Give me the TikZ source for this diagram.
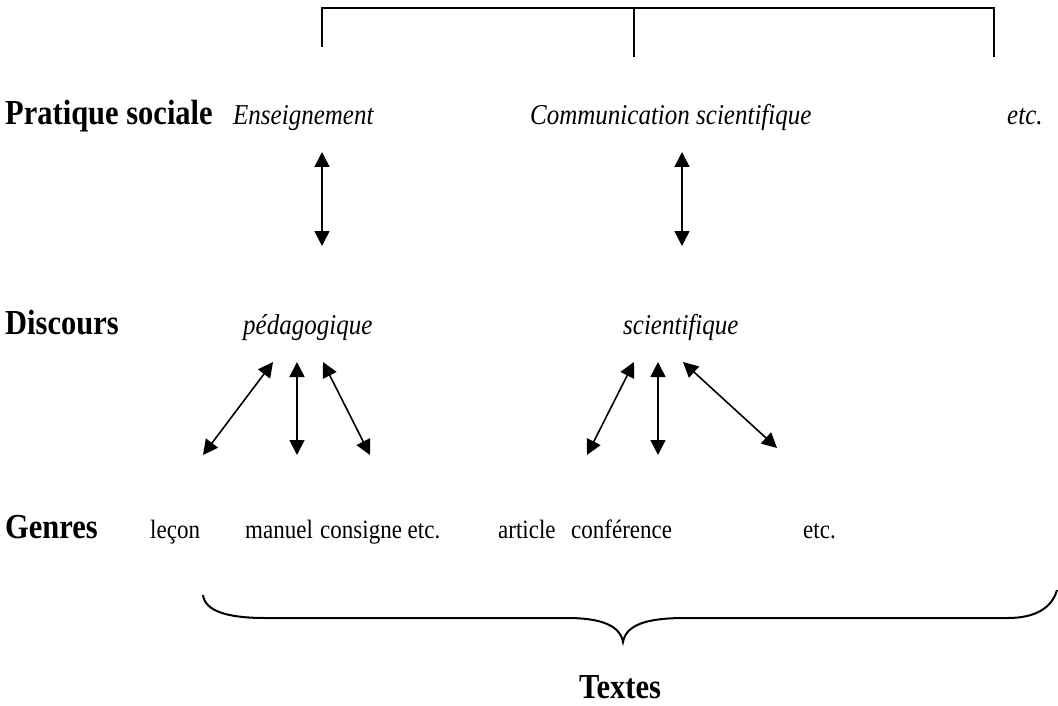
\documentclass[tikz,border=0pt]{standalone}
\usepackage{fontspec}
\usepackage{graphicx}
\setmainfont{Liberation Serif}
\usetikzlibrary{arrows.meta}
\newcommand\tall[1]{\scalebox{1}[1.15]{#1}}
\begin{document}
\begin{tikzpicture}[x=1pt,y=-1pt,
  lbl/.style={anchor=base west,inner sep=0pt,font=\fontsize{30.5}{34}\selectfont\bfseries},
  itl/.style={anchor=base west,inner sep=0pt,font=\fontsize{25}{30}\selectfont\itshape},
  reg/.style={anchor=base west,inner sep=0pt,font=\fontsize{23}{27}\selectfont},
  bar/.style={line width=1.6pt},
  dbl/.style={line width=1.6pt,{Triangle[length=15pt,width=15pt]}-{Triangle[length=15pt,width=15pt]}},
  brace/.style={line width=2pt}]
\useasboundingbox (0,0) rectangle (1058,706);
% top bracket
\coordinate (bl) at (322,47);
\coordinate (bm) at (634,57);
\coordinate (br) at (994,57);
\coordinate (tl) at (322,8);
\coordinate (tm) at (634,8);
\coordinate (tr) at (994,8);
\draw[bar] (bl) -- (tl) -- (tr) -- (br);
\draw[bar] (tm) -- (bm);
% row 1
\node[lbl] (ps) at (5,125) {\tall{Pratique sociale}};
\node[itl] (ens) at (233,125) {\tall{Enseignement}};
\node[itl] (com) at (530,125) {\tall{Communication scientifique}};
\node[itl] (etc1) at (1007,125) {\tall{etc.}};
% vertical arrows
\coordinate (a1t) at (322,152);
\coordinate (a1b) at (322,246);
\coordinate (a2t) at (682,152);
\coordinate (a2b) at (682,246);
\draw[dbl] (a1t) -- (a1b);
\draw[dbl] (a2t) -- (a2b);
% row 2
\node[lbl] (dis) at (5,334) {\tall{Discours}};
\node[itl] (ped) at (243,334) {\tall{pédagogique}};
\node[itl] (sci) at (623,334) {\tall{scientifique}};
% arrows to genres
\coordinate (p1t) at (273,362); \coordinate (p1b) at (203,455);
\coordinate (p2t) at (297,362); \coordinate (p2b) at (297,455);
\coordinate (p3t) at (323,362); \coordinate (p3b) at (370,455);
\coordinate (s1t) at (634,362); \coordinate (s1b) at (587,455);
\coordinate (s2t) at (658,362); \coordinate (s2b) at (658,455);
\coordinate (s3t) at (683,362); \coordinate (s3b) at (777,448);
\draw[dbl] (p1t) -- (p1b);
\draw[dbl] (p2t) -- (p2b);
\draw[dbl] (p3t) -- (p3b);
\draw[dbl] (s1t) -- (s1b);
\draw[dbl] (s2t) -- (s2b);
\draw[dbl] (s3t) -- (s3b);
% row 3
\node[lbl] (gen) at (5,538) {\tall{Genres}};
\node[reg] (lec) at (150,538) {\tall{leçon}};
\node[reg] (man) at (245,538) {\tall{manuel}};
\node[reg] (con) at (320,538) {\tall{consigne etc.}};
\node[reg] (art) at (498,538) {\tall{article}};
\node[reg] (conf) at (571,538) {\tall{conférence}};
\node[reg] (etc3) at (803,538) {\tall{etc.}};
% brace
\coordinate (bs) at (203,595);
\coordinate (btip) at (623,642);
\coordinate (be) at (1057,590);
\draw[brace] (bs) .. controls (205,612) and (230,618) .. (265,618) -- (567,618)
  .. controls (600,618) and (620,625) .. (btip)
  .. controls (626,625) and (646,618) .. (685,618) -- (1008,618)
  .. controls (1035,618) and (1052,608) .. (be);
\node[lbl,anchor=base] (txt) at (620,698) {\tall{Textes}};
\end{tikzpicture}
\end{document}
